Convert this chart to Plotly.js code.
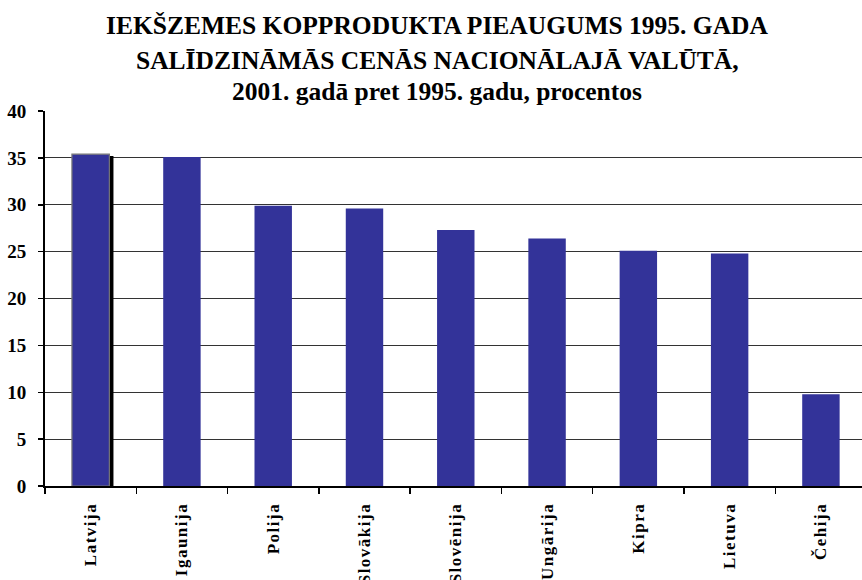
<!DOCTYPE html>
<html>
<head>
<meta charset="utf-8">
<script src="https://cdn.plot.ly/plotly-3.0.1.min.js"></script>
<style>
html,body{margin:0;padding:0;background:#fff;}
.xtick text{letter-spacing:1.5px;}
</style>
</head>
<body>
<div id="chart" style="width:862px;height:580px;"></div>
<script>
const categories = ["Latvija", "Igaunija", "Polija", "Slovākija", "Slovēnija", "Ungārija", "Kipra", "Lietuva", "Čehija"];
const values = [35.4, 35.1, 29.9, 29.6, 27.3, 26.4, 25.1, 24.8, 9.8];
const highlightCategory = ["Latvija"];
const highlightShadow = [35.2];
const yTicks = [0, 5, 10, 15, 20, 25, 30, 35, 40];
const titleLines = [
  "IEKŠZEMES KOPPRODUKTA PIEAUGUMS 1995. GADA",
  "SALĪDZINĀMĀS CENĀS NACIONĀLAJĀ VALŪTĀ,",
  "2001. gadā pret 1995. gadu, procentos"
];

const serif = "Liberation Serif";
const barW = 0.41;

const shadow = {
  type: "bar",
  x: highlightCategory,
  y: highlightShadow,
  width: barW,
  offset: -barW / 2 + 0.045,
  marker: {color: "#000000", line: {width: 0}},
  hoverinfo: "skip",
  showlegend: false
};

const bars = {
  type: "bar",
  x: categories,
  y: values,
  width: barW,
  marker: {
    color: "#333399",
    line: {
      color: "#777777",
      width: categories.map(c => highlightCategory.includes(c) ? 1.2 : 0)
    }
  },
  showlegend: false
};

const titleY = [1.229, 1.136, 1.052];
const annotations = titleLines.map((t, i) => ({
  text: t,
  xref: "paper", yref: "paper",
  x: 0.480, y: titleY[i],
  xanchor: "center", yanchor: "middle",
  showarrow: false,
  font: {family: serif, size: 25.5, color: "#000", weight: "bold"}
}));

const layout = {
  width: 862, height: 580,
  margin: {l: 45, r: 0, t: 111, b: 94},
  paper_bgcolor: "#fff",
  plot_bgcolor: "#fff",
  barmode: "overlay",
  annotations: annotations,
  xaxis: {
    type: "category",
    categoryorder: "array",
    categoryarray: categories,
    range: [-0.5, 8.45],
    tickson: "boundaries",
    ticks: "outside",
    ticklen: 6,
    tickwidth: 1.5,
    tickcolor: "#000",
    tickangle: -90,
    ticklabelstandoff: 8,
    tickfont: {family: serif, size: 17, color: "#000", weight: "bold"},
    showline: true,
    linecolor: "#000",
    linewidth: 2,
    showgrid: false,
    zeroline: false,
    fixedrange: true
  },
  yaxis: {
    range: [0, 40],
    tickvals: yTicks,
    ticks: "outside",
    ticklen: 5,
    tickwidth: 1.5,
    tickcolor: "#000",
    ticklabelstandoff: 8,
    tickfont: {family: serif, size: 19, color: "#000", weight: "bold"},
    showline: true,
    linecolor: "#000",
    linewidth: 2,
    showgrid: true,
    gridcolor: "#333333",
    gridwidth: 1,
    zeroline: false,
    fixedrange: true
  }
};

Plotly.newPlot("chart", [shadow, bars], layout, {displayModeBar: false, staticPlot: true});
</script>
</body>
</html>
